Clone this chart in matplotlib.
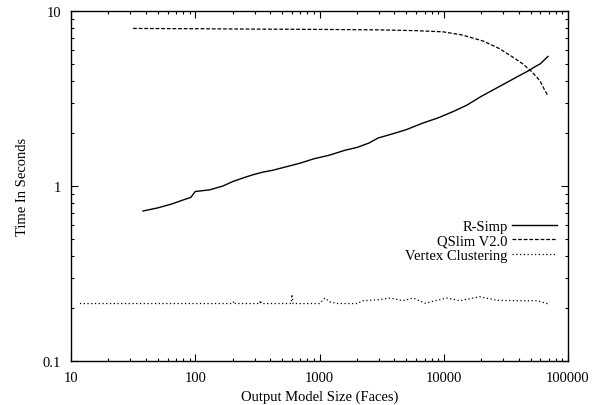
import matplotlib
matplotlib.use("Agg")
import matplotlib.pyplot as plt
from matplotlib.ticker import LogLocator, FixedLocator, NullFormatter

rsimp_x = [38, 50, 65, 83, 92, 100, 130, 167, 200, 250, 292, 350, 420, 500, 697, 900,
           1200, 1600, 2000, 2500, 2960, 4000, 5000, 6800, 9000, 12000, 15380, 20000,
           30000, 40000, 49400, 52000, 60000, 69000]
rsimp_y = [0.72, 0.75, 0.79, 0.84, 0.86, 0.93, 0.95, 1.0, 1.06, 1.12, 1.16, 1.2, 1.23, 1.27,
           1.35, 1.43, 1.5, 1.6, 1.66, 1.76, 1.88, 2.0, 2.1, 2.29, 2.45, 2.67, 2.9, 3.25,
           3.8, 4.25, 4.6, 4.72, 5.0, 5.5]

qslim_x = [31.6, 100, 300, 1000, 3000, 6000, 9900, 14000, 20700, 28000, 36000, 43000,
           49400, 55000, 59600, 64000, 69000]
qslim_y = [7.95, 7.92, 7.88, 7.85, 7.8, 7.72, 7.6, 7.3, 6.74, 6.1, 5.45, 5.0,
           4.6, 4.25, 3.98, 3.6, 3.27]

vc_x = [11.8, 100, 200, 205, 210, 330, 335, 340, 590, 601, 612, 1000, 1107, 1200, 1400,
        2000, 2240, 3000, 3690, 4700, 5650, 7060, 10600, 13500, 19500, 26900, 40000,
        56600, 69000]
vc_y = [0.213, 0.213, 0.213, 0.22, 0.213, 0.213, 0.222, 0.213, 0.213, 0.24, 0.213, 0.213,
        0.229, 0.218, 0.213, 0.213, 0.221, 0.224, 0.229, 0.221, 0.229, 0.214, 0.229,
        0.221, 0.233, 0.222, 0.221, 0.221, 0.212]

series_labels = ["R-Simp", "QSlim V2.0", "Vertex Clustering"]
x_ticks = [10, 100, 1000, 10000, 100000]
x_tick_labels = ["10", "100", "1000", "10000", "100000"]
y_ticks = [0.1, 1, 10]
y_tick_labels = ["0.1", "1", "10"]

plt.rcParams['font.family'] = ['Liberation Serif', 'DejaVu Serif']

fig = plt.figure(figsize=(6.04, 4.06), dpi=100)
ax = fig.add_axes([71/604, 44/406, (568-71)/604, (362-12)/406])

ax.plot(rsimp_x, rsimp_y, color='black', lw=1.0, linestyle='-', label=series_labels[0])
ax.plot(qslim_x, qslim_y, color='black', lw=0.9, linestyle=(0, (3, 1.5)), label=series_labels[1])
ax.plot(vc_x, vc_y, color='black', lw=0.9, linestyle=(0, (1, 2)), label=series_labels[2])

ax.set_xscale('log')
ax.set_yscale('log')
ax.set_xlim(10, 100000)
ax.set_ylim(0.1, 10)

ax.xaxis.set_major_locator(FixedLocator(x_ticks))
ax.set_xticklabels(x_tick_labels)
ax.yaxis.set_major_locator(FixedLocator(y_ticks))
ax.set_yticklabels(y_tick_labels)
ax.xaxis.set_minor_locator(LogLocator(base=10, subs=range(2, 10)))
ax.yaxis.set_minor_locator(LogLocator(base=10, subs=range(2, 10)))
ax.xaxis.set_minor_formatter(NullFormatter())
ax.yaxis.set_minor_formatter(NullFormatter())

ax.tick_params(which='both', direction='in', top=True, right=True, labelsize=10.5, width=0.8)
ax.tick_params(which='major', length=5, pad=7)
ax.tick_params(which='minor', length=2.5)
for s in ax.spines.values():
    s.set_linewidth(1.0)

ax.set_xlabel("Output Model Size (Faces)", fontsize=10.5, labelpad=4)
ax.set_ylabel("Time In Seconds", fontsize=10.5, labelpad=10)

leg = ax.legend(loc='upper right', bbox_to_anchor=(0.99, 0.42), frameon=False,
                fontsize=10.5, markerfirst=False, handlelength=3.1, handletextpad=0.3,
                labelspacing=0.08, borderaxespad=0)

fig.savefig("out.png", dpi=100)
